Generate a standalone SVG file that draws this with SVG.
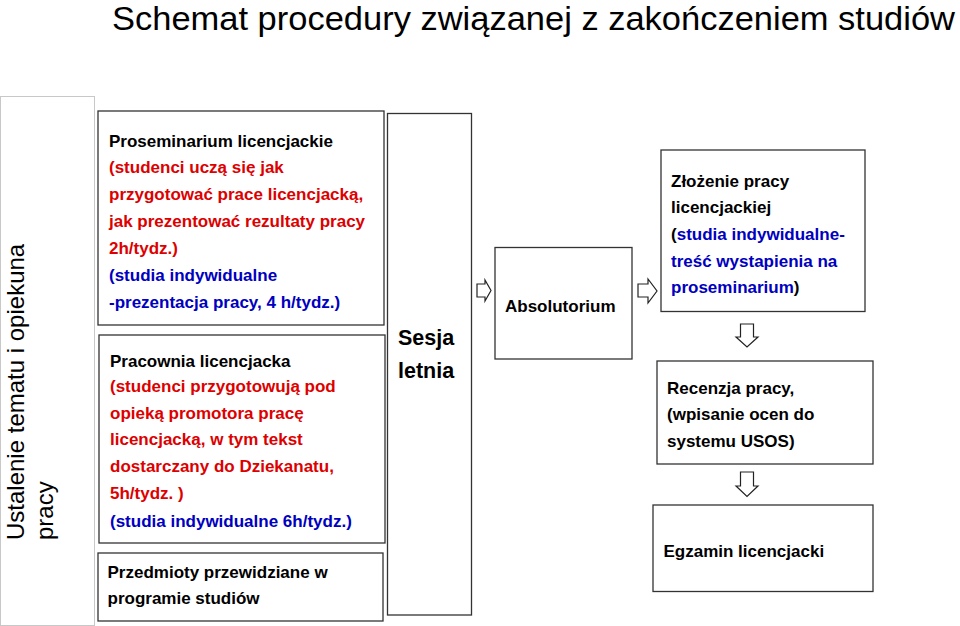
<svg xmlns="http://www.w3.org/2000/svg" width="960" height="626" viewBox="0 0 960 626">
<style>
.box{fill:#fff;stroke:#333;stroke-width:1.3}
.t{font-family:"Liberation Sans",Arial,sans-serif;font-size:17px;font-weight:bold;fill:#000}
.big{font-size:21.5px}
.r{fill:#dd0000}
.b{fill:#0000c0}
.arr{fill:#fff;stroke:#222;stroke-width:1.2}
</style>
<rect width="960" height="626" fill="#fff"/>
<text x="112" y="29.5" font-family="Liberation Sans,Arial,sans-serif" font-size="32.5" textLength="843" lengthAdjust="spacingAndGlyphs" fill="#000">Schemat procedury związanej z zakończeniem studiów</text>
<g id="ustalenie">
<rect x="0.5" y="96.5" width="94" height="529" fill="#fff" stroke="#c8c8c8" stroke-width="1"/>
<text transform="translate(24,540) rotate(-90)" font-family="Liberation Sans,Arial,sans-serif" font-size="24" fill="#000">Ustalenie tematu i opiekuna</text>
<text transform="translate(53,540) rotate(-90)" font-family="Liberation Sans,Arial,sans-serif" font-size="24" fill="#000">pracy</text>
</g>
<g id="proseminarium">
<rect class="box" x="98" y="111" width="286" height="214"/>
<text class="t" x="109" y="146.5">Proseminarium licencjackie</text>
<text class="t r" x="109" y="173">(studenci uczą się jak</text>
<text class="t r" x="109" y="200">przygotować prace licencjacką,</text>
<text class="t r" x="109" y="227">jak prezentować rezultaty pracy</text>
<text class="t r" x="109" y="254">2h/tydz.)</text>
<text class="t b" x="109" y="281">(studia indywidualne</text>
<text class="t b" x="109" y="308">-prezentacja pracy,  4 h/tydz.)</text>
</g>
<g id="pracownia">
<rect class="box" x="99" y="335" width="286" height="208"/>
<text class="t" x="110" y="366.5">Pracownia licencjacka</text>
<text class="t r" x="110" y="392">(studenci przygotowują pod</text>
<text class="t r" x="110" y="418.5">opieką promotora pracę</text>
<text class="t r" x="110" y="445">licencjacką, w tym tekst</text>
<text class="t r" x="110" y="472">dostarczany do Dziekanatu,</text>
<text class="t r" x="110" y="499">5h/tydz. )</text>
<text class="t b" x="110" y="526.5">(studia indywidualne 6h/tydz.)</text>
</g>
<g id="przedmioty">
<rect class="box" x="98" y="553" width="285" height="68"/>
<text class="t" x="107.5" y="578">Przedmioty przewidziane w</text>
<text class="t" x="107.5" y="604">programie studiów</text>
</g>
<g id="sesja">
<rect class="box" x="387.5" y="113.5" width="84" height="501.5"/>
<text class="t big" x="398" y="345">Sesja</text>
<text class="t big" x="398" y="378">letnia</text>
</g>
<g id="absolutorium">
<rect class="box" x="495" y="247.5" width="137" height="111.5"/>
<text class="t" x="505" y="311.5">Absolutorium</text>
</g>
<g id="zlozenie">
<rect class="box" x="661" y="150" width="204" height="161.5"/>
<text class="t" x="671" y="186.5">Złożenie pracy</text>
<text class="t" x="671" y="213">licencjackiej</text>
<text class="t" x="671" y="240">(<tspan class="b">studia indywidualne-</tspan></text>
<text class="t b" x="671" y="266.5">treść wystapienia na</text>
<text class="t" x="671" y="293"><tspan class="b">proseminarium</tspan>)</text>
</g>
<g id="recenzja">
<rect class="box" x="657" y="361" width="216" height="103"/>
<text class="t" x="667" y="393.5">Recenzja pracy,</text>
<text class="t" x="667" y="420">(wpisanie ocen do</text>
<text class="t" x="667" y="446.5">systemu USOS)</text>
</g>
<g id="egzamin">
<rect class="box" x="653" y="505" width="220" height="86.5"/>
<text class="t" x="663.5" y="556.5">Egzamin licencjacki</text>
</g>
<g id="connectors">
<path class="arr" d="M477,284 H485 V280 L491,290.5 L485,301 V297 H477 Z"/>
<path class="arr" d="M638,284 H648 V279 L657,291 L648,303 V297 H638 Z"/>
<path class="arr" d="M740.5,324 H753.5 V337 H758 L747,347 L736,337 H740.5 Z"/>
<path class="arr" d="M740.5,472 H753.5 V486 H758 L747,496.5 L736,486 H740.5 Z"/>
</g>
</svg>
